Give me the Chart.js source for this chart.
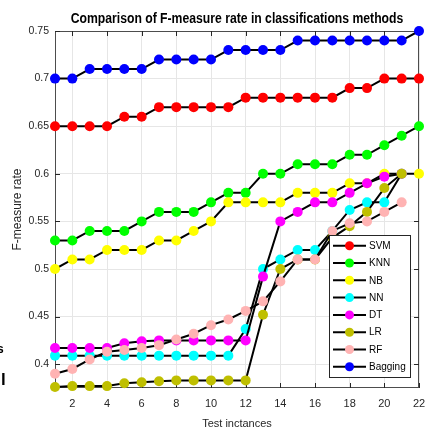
<!DOCTYPE html>
<html>
<head>
<meta charset="utf-8">
<script src="https://cdn.jsdelivr.net/npm/chart.js@4.4.1/dist/chart.umd.min.js"></script>
<style>
  html, body { margin: 0; padding: 0; background: #fff; }
  #wrap { width: 425px; height: 431px; position: relative; }
</style>
</head>
<body>
<div id="wrap"><canvas id="fChart"></canvas></div>
<script>
// test instances (x axis)
const testIdx = [1,2,3,4,5,6,7,8,9,10,11,12,13,14,15,16,17,18,19,20,21,22];

// F-measure per method
const svm     = [0.65,0.65,0.65,0.65,0.66,0.66,0.67,0.67,0.67,0.67,0.67,0.68,0.68,0.68,0.68,0.68,0.68,0.69,0.69,0.70,0.70,0.70];
const knn     = [0.53,0.53,0.54,0.54,0.54,0.55,0.56,0.56,0.56,0.57,0.58,0.58,0.60,0.60,0.61,0.61,0.61,0.62,0.62,0.63,0.64,0.65];
const nb      = [0.50,0.51,0.51,0.52,0.52,0.52,0.53,0.53,0.54,0.55,0.57,0.57,0.57,0.57,0.58,0.58,0.58,0.59,0.59,0.60,0.60,0.60];
const nn      = [0.409,0.409,0.409,0.409,0.409,0.409,0.409,0.409,0.409,0.409,0.409,0.437,0.50,0.51,0.52,0.52,0.54,0.562,0.57,0.57,0.60,null];
const dt      = [0.417,0.417,0.417,0.417,0.422,0.424,0.425,0.425,0.425,0.425,0.425,0.425,0.492,0.55,0.56,0.57,0.57,0.58,0.59,0.597,0.60,null];
const lr      = [0.376,0.377,0.377,0.377,0.380,0.381,0.382,0.383,0.383,0.383,0.383,0.383,0.452,0.50,0.51,0.51,0.533,0.545,0.56,0.585,0.60,null];
const rf      = [0.390,0.395,0.405,0.413,0.415,0.417,0.420,0.426,0.432,0.441,0.447,0.456,0.466,0.487,0.51,0.51,0.54,0.548,0.55,0.56,0.57,null];
const bagging = [0.70,0.70,0.71,0.71,0.71,0.71,0.72,0.72,0.72,0.72,0.73,0.73,0.73,0.73,0.74,0.74,0.74,0.74,0.74,0.74,0.74,0.75];

const methodNames = ['SVM','KNN','NB','NN','DT','LR','RF','Bagging'];
const methodColors = ['#ff0000','#00ff00','#ffff00','#00ffff','#ff00ff','#bfbf00','#ffb3b3','#0000ff'];
const seriesList = [svm, knn, nb, nn, dt, lr, rf, bagging];

const xTicks = [2,4,6,8,10,12,14,16,18,20,22];
const yTicks = [0.4,0.45,0.5,0.55,0.6,0.65,0.7,0.75];

const chartTitle = 'Comparison of F-measure rate in classifications methods';

const FONT = "'Liberation Sans', Arial, Helvetica, sans-serif";
Chart.defaults.font.family = FONT;

function toPoints(arr) {
  return arr.map((v, i) => ({ x: testIdx[i], y: v }));
}

// matlab style box with inward ticks, title centred over the axes
const boxPlugin = {
  id: 'boxPlugin',
  beforeDatasetsDraw(chart) {
    const { ctx, chartArea: a, scales } = chart;
    ctx.save();
    ctx.strokeStyle = '#4d4d4d';
    ctx.lineWidth = 1;
    ctx.strokeRect(a.left + 0.5, a.top + 0.5, a.right - a.left - 1, a.bottom - a.top - 1);
    ctx.strokeStyle = '#262626';
    ctx.beginPath();
    xTicks.forEach(v => {
      const px = Math.round(scales.x.getPixelForValue(v)) + 0.5;
      ctx.moveTo(px, a.bottom); ctx.lineTo(px, a.bottom - 5);
      ctx.moveTo(px, a.top); ctx.lineTo(px, a.top + 5);
    });
    yTicks.forEach(v => {
      const py = Math.round(scales.y.getPixelForValue(v)) + 0.5;
      ctx.moveTo(a.left, py); ctx.lineTo(a.left + 5, py);
      ctx.moveTo(a.right, py); ctx.lineTo(a.right - 5, py);
    });
    ctx.stroke();

    // title (slightly tall glyphs like the source figure)
    ctx.translate((a.left + a.right) / 2, 19.5);
    ctx.scale(1, 1.15);
    ctx.fillStyle = '#000';
    ctx.font = 'bold 12.2px ' + FONT;
    ctx.textAlign = 'center';
    ctx.textBaseline = 'middle';
    ctx.fillText(chartTitle, 0, 0);
    ctx.restore();
  }
};

// legend box inside the plot, lower right
const legendPlugin = {
  id: 'legendPlugin',
  afterDatasetsDraw(chart) {
    const { ctx } = chart;
    const bx = 329, by = 235, bw = 81, bh = 142;
    ctx.save();
    ctx.fillStyle = '#fff';
    ctx.fillRect(bx, by, bw, bh);
    ctx.strokeStyle = '#262626';
    ctx.lineWidth = 1;
    ctx.strokeRect(bx + 0.5, by + 0.5, bw, bh);
    chart.data.datasets.forEach((ds, i) => {
      const y = 245.7 + i * 17.3;
      ctx.strokeStyle = '#000';
      ctx.lineWidth = 2;
      ctx.beginPath();
      ctx.moveTo(333, y); ctx.lineTo(366, y);
      ctx.stroke();
      ctx.fillStyle = ds.pointBackgroundColor;
      ctx.beginPath();
      ctx.arc(349.5, y, 4.5, 0, Math.PI * 2);
      ctx.fill();
      ctx.fillStyle = '#000';
      ctx.font = '10px ' + FONT;
      ctx.textBaseline = 'middle';
      ctx.fillText(ds.label, 369, y + 0.5);
    });
    // stray glyphs at the left border of the figure
    ctx.fillStyle = '#000';
    ctx.font = 'bold 12px ' + FONT;
    ctx.fillText('s', -3, 350);
    ctx.font = 'bold 17px ' + FONT;
    ctx.fillText('l', 1, 380);
    ctx.restore();
  }
};

new Chart(document.getElementById('fChart').getContext('2d'), {
  type: 'line',
  data: {
    datasets: seriesList.map((s, i) => ({
      label: methodNames[i],
      data: toPoints(s),
      borderColor: '#000',
      borderWidth: 2,
      pointBackgroundColor: methodColors[i],
      pointBorderColor: methodColors[i],
      pointBorderWidth: 0,
      pointRadius: 5,
      tension: 0,
      clip: false,
      order: seriesList.length - i
    }))
  },
  options: {
    responsive: true,
    maintainAspectRatio: false,
    animation: false,
    layout: { padding: { left: 0, right: 6, top: 31, bottom: 0 } },
    plugins: {
      legend: { display: false },
      tooltip: { enabled: false },
      title: { display: false }
    },
    scales: {
      x: {
        type: 'linear',
        min: 1,
        max: 22,
        afterBuildTicks: s => { s.ticks = xTicks.map(v => ({ value: v })); },
        afterFit: s => { s.height = 43; s.paddingLeft = 0; s.paddingRight = 0; },
        grid: { color: '#e6e6e6', drawTicks: false },
        border: { display: false },
        ticks: { padding: 9, color: '#262626', font: { size: 11 }, maxRotation: 0 },
        title: { display: true, text: 'Test inctances', color: '#262626', font: { size: 11 }, padding: { top: 0, bottom: 0 } }
      },
      y: {
        min: 0.375,
        max: 0.75,
        afterBuildTicks: s => { s.ticks = yTicks.map(v => ({ value: v })); },
        afterFit: s => { s.width = 55; s.paddingTop = 0; s.paddingBottom = 0; },
        grid: { color: '#e6e6e6', drawTicks: false },
        border: { display: false },
        ticks: { padding: 6, color: '#262626', font: { size: 10.5 }, callback: v => String(+v.toFixed(2)) },
        title: { display: true, text: 'F-measure rate', color: '#262626', font: { size: 12 }, padding: { top: 10.8 } }
      }
    }
  },
  plugins: [boxPlugin, legendPlugin]
});
</script>
</body>
</html>
